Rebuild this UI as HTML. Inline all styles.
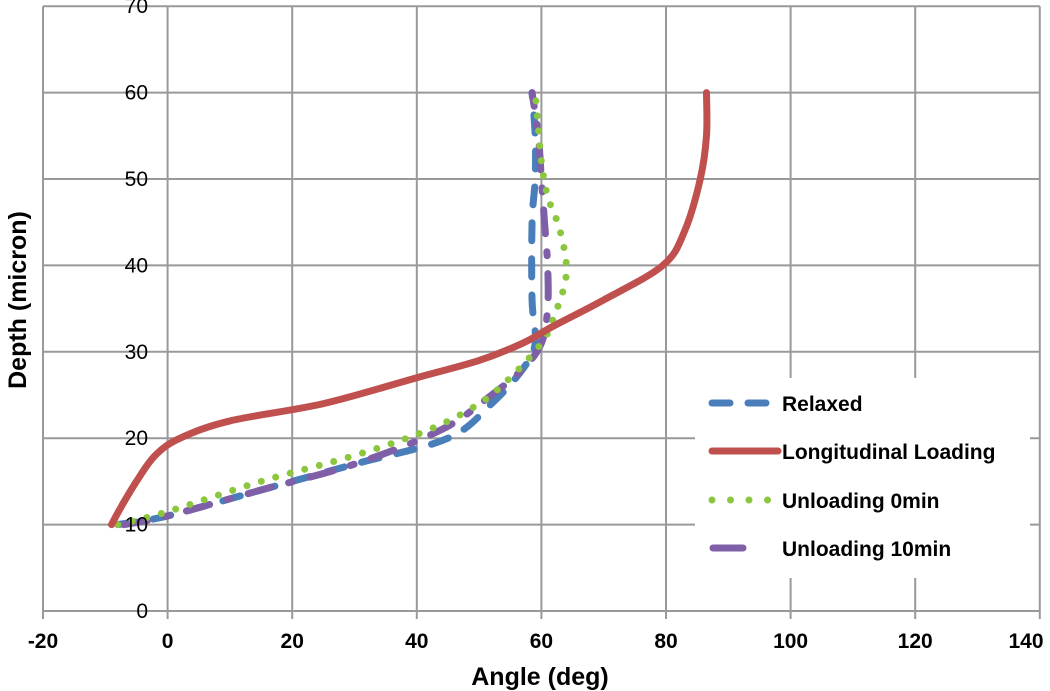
<!DOCTYPE html>
<html><head><meta charset="utf-8"><style>
body{margin:0;background:#fff;}
svg{display:block;font-family:"Liberation Sans",sans-serif;}
</style></head><body>
<svg id="chart" width="1050" height="691" viewBox="0 0 1050 691">
<g id="grid"></g>
<g id="series"></g>
<g id="ticks"></g>
<text transform="translate(26,300) rotate(-90)" text-anchor="middle" font-size="25" font-weight="bold">Depth (micron)</text>
<text x="540" y="685" text-anchor="middle" font-size="25" font-weight="bold">Angle (deg)</text>
<g>
<rect x="695" y="378" width="335" height="200" fill="#fff"/>
<line x1="712" y1="403" x2="772" y2="403" stroke="#4a7ebb" stroke-width="7" stroke-linecap="round" stroke-dasharray="18,18"/>
<text x="782" y="411" font-size="21" font-weight="bold">Relaxed</text>
<line x1="712" y1="451" x2="778" y2="451" stroke="#c0504d" stroke-width="7" stroke-linecap="round"/>
<text x="782" y="459" font-size="21" font-weight="bold">Longitudinal Loading</text>
<line x1="712" y1="500" x2="772" y2="500" stroke="#8cc63f" stroke-width="7" stroke-linecap="round" stroke-dasharray="0,18.5"/>
<text x="782" y="508" font-size="21" font-weight="bold">Unloading 0min</text>
<line x1="713" y1="548" x2="743" y2="548" stroke="#7f5fa8" stroke-width="7" stroke-linecap="round"/>
<text x="782" y="556" font-size="21" font-weight="bold">Unloading 10min</text>
</g>
</svg>
<script>
const xTicks=[-20,0,20,40,60,80,100,120,140];
const yTicks=[0,10,20,30,40,50,60,70];
const longX=[-9,-7.5,-5,-2,2,10,25,40,50,57,62,70,79.5,83,85.5,86.5,86.5];
const longY=[10,12,15,18,20,22,24,27,29,31,33,36,40,44,50,55,60];
const relX=[-8,0,15,30,45,52,57,59,58.5,58.5,59,59,58.5];
const relY=[10,11,14,17,20,24,28,31,36,45,50,55,60];
const un0X=[-8,0,15,30,42,50,55,60,62,64,63,61,60,59.5,59];
const un0Y=[10,11.5,15,18,21,24,27,31,34,39,44,48,52,56,60];
const un10X=[-7,0,15,30,44,52,57,60,61,61,60.5,60,59.5,58.5];
const un10Y=[10,11,14,17,21,25,28,31,35,40,45,50,55,60];
const NS="http://www.w3.org/2000/svg";
const xs=v=>43+(v+20)*6.23;
const ys=v=>611-v*8.64;
const grid=document.getElementById('grid'),ticks=document.getElementById('ticks'),ser=document.getElementById('series');
function mk(t,a,p){const e=document.createElementNS(NS,t);for(const k in a)e.setAttribute(k,a[k]);p.appendChild(e);return e;}
xTicks.forEach(v=>{const l=mk('line',{x1:xs(v),x2:xs(v),y1:ys(70),y2:ys(0)+8,stroke:'#999','stroke-width':2},grid);


const t=mk('text',{x:Math.min(xs(v),1026),y:648,'text-anchor':'middle','font-size':21,'font-weight':'bold'},ticks);t.textContent=v;

});
yTicks.forEach(v=>{const l=mk('line',{x1:xs(-20),x2:xs(140),y1:ys(v),y2:ys(v),stroke:'#999','stroke-width':2},grid);


const t=mk('text',{x:148,y:ys(v)+7,'text-anchor':'end','font-size':21},ticks);t.textContent=v;

});
function line(X,Y,st,name){let d='';
const P=X.map((x,i)=>[xs(x),ys(Y[i])]);d='M'+P[0];
for(let i=0;i<P.length-1;i++){const p0=P[i-1]||P[i],p1=P[i],p2=P[i+1],p3=P[i+2]||p2;
d+=' C'+(p1[0]+(p2[0]-p0[0])/6)+','+(p1[1]+(p2[1]-p0[1])/6)+' '+(p2[0]-(p3[0]-p1[0])/6)+','+(p2[1]-(p3[1]-p1[1])/6)+' '+p2;}
const e=mk('path',Object.assign({d:d,fill:'none','stroke-linecap':'round','stroke-linejoin':'round'},st),ser);

}
line(relX,relY,{stroke:'#4a7ebb','stroke-width':7,'stroke-dasharray':'18,18'},'relaxed-line');
line(un10X,un10Y,{stroke:'#7f5fa8','stroke-width':7,'stroke-dasharray':'24,18,4,18'},'unloading-10min-line');
line(un0X,un0Y,{stroke:'#8cc63f','stroke-width':7,'stroke-dasharray':'0,15'},'unloading-0min-line');
line(longX,longY,{stroke:'#c0504d','stroke-width':7},'longitudinal-loading-line');
</script>
</body></html>
